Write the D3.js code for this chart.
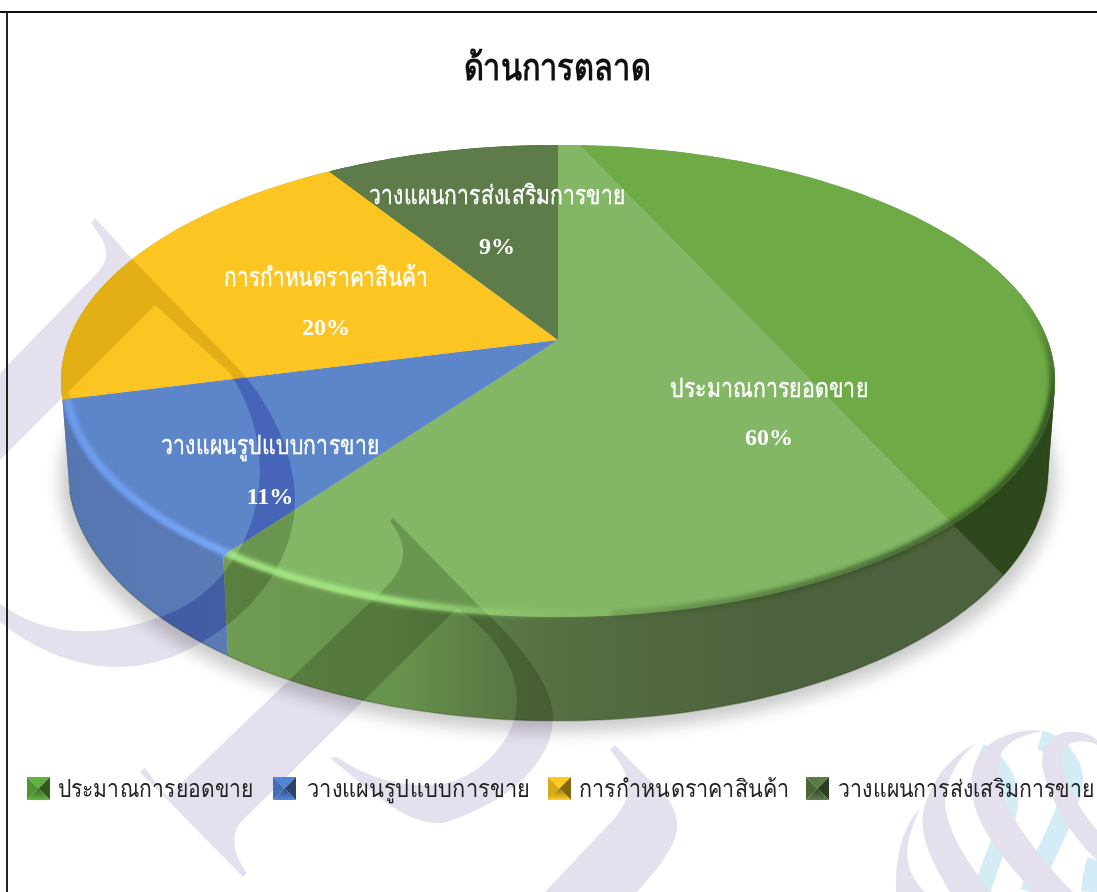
<!DOCTYPE html>
<html>
<head>
  <meta charset="utf-8">
  <title>ด้านการตลาด</title>
  <style>
    body { margin: 0; background: #fff; }
    svg { display: block; }
    text { font-family: "Liberation Serif", "Times New Roman", serif; }
    .title { font-size: 37px; font-weight: bold; fill: #111; text-anchor: middle; }
    .name { font-size: 26px; fill: #fff; stroke: #fff; stroke-width: 0.4px; text-anchor: middle; }
    .pct { font-size: 24px; font-weight: bold; fill: #fff; text-anchor: middle; }
    .legend-text { font-size: 24px; fill: #222; }
  </style>
  <script src="https://cdn.jsdelivr.net/npm/d3@7"></script>
</head>
<body>
<script>
// chart values
var titleText = "ด้านการตลาด";
var categories = ["ประมาณการยอดขาย", "วางแผนรูปแบบการขาย", "การกำหนดราคาสินค้า", "วางแผนการส่งเสริมการขาย"];
var values = [60, 11, 20, 9];

// slice colours
var faceColors = ["#83B765", "#5D85CA", "#FDC522", "#5E7B4A"];
var keyColors = ["#5FB23C", "#4F83D8", "#FFCB1E", "#5A7A46"];
// what the watermark does to each slice
var markTint = ["#CFD1C7", "#C0C2E8", "#E5E1A0", "#CFD1C7"];

// text layout, same order as categories
var labelBox = [
  {cx: 769, y1: 397, y2: 445, w: 198},
  {cx: 270, y1: 454, y2: 504, w: 218},
  {cx: 326, y1: 286, y2: 335, w: 204},
  {cx: 497, y1: 204, y2: 254, w: 256}
];
var legendBox = [
  {key: 27, x: 58, w: 193},
  {key: 273, x: 307, w: 218},
  {key: 548, x: 579, w: 208},
  {key: 806, x: 838, w: 254}
];

var width = 1097, height = 892, cx = 558;

// perspective of the tilted disc, plane 0 is the top face, 1 the underside
var tilt = 0.1737;
var planes = [{y: 340, a: 489.5, b: 229}, {y: 428, a: 482.5, b: 242}];

function project(angle, plane, r) {
  r = r === undefined ? 1 : r;
  var u = Math.sin(angle) * r, v = Math.cos(angle) * r, w = 1 + tilt * v;
  return [cx + plane.a * u / w, plane.y - plane.b * v / w];
}

function arcPoints(a0, a1, plane, r) {
  var n = Math.max(2, Math.ceil((a1 - a0) / 0.02));
  return d3.range(n + 1).map(function(i) {
    return project(a0 + (a1 - a0) * i / n, plane, r);
  });
}

var line = d3.line();

var arcs = d3.pie().sort(null).value(function(d) { return d; })(values);

var svg = d3.select("body").append("svg")
    .attr("width", width)
    .attr("height", height);

var defs = svg.append("defs");

defs.append("filter").attr("id", "shadowBlur")
    .attr("filterUnits", "userSpaceOnUse")
    .attr("x", 0).attr("y", 0).attr("width", width).attr("height", height)
  .append("feGaussianBlur").attr("stdDeviation", 8);
defs.append("filter").attr("id", "rimBlur")
    .attr("filterUnits", "userSpaceOnUse")
    .attr("x", 0).attr("y", 0).attr("width", width).attr("height", height)
  .append("feGaussianBlur").attr("stdDeviation", 2.2);

function gradient(id, stops, vertical) {
  var g = defs.append("linearGradient").attr("id", id)
      .attr("gradientUnits", "userSpaceOnUse")
      .attr("x1", 0).attr("y1", 0)
      .attr("x2", vertical ? 0 : width).attr("y2", vertical ? height : 0);
  stops.forEach(function(s) {
    g.append("stop")
        .attr("offset", s[0] / (vertical ? height : width))
        .attr("stop-color", s[1])
        .attr("stop-opacity", s[2] === undefined ? 1 : s[2]);
  });
}
gradient("side0", [[228, "#6F9B52"], [400, "#67924C"], [480, "#5C7D46"], [560, "#566F42"], [780, "#4C613D"], [1010, "#4C613D"]]);
gradient("side1", [[66, "#5676B2"], [230, "#5A7BB6"]]);
gradient("rim0", [[228, "#A6E885"], [400, "#A2E680"], [520, "#98D878", 0.35], [620, "#88C068", 0]]);
gradient("rim1", [[60, "#6C9CF0"], [230, "#7AA8FA"]]);
gradient("rim2", [[60, "#DDAE0A"], [110, "#E8B814", 0]]);
gradient("rimDarkA", [[300, "#2C481C", 0], [400, "#2C481C", 0.9], [520, "#2C481C", 0.8]], true);
gradient("rimDarkB", [[520, "#2C481C", 0], [800, "#2C481C", 0.55], [990, "#2C481C", 0.8]]);

// watermark shapes, typed from the picture
var markPaths = [
  "M95,218L133,260L233,363C265,395 295,450 295,500C295,570 240,625 187,650C130,680 60,670 0,622L0,604C40,632 90,642 160,617C220,597 258,540 260,470C258,430 250,405 230,373L155,305L0,460L0,373L100,270C110,255 108,245 91,223Z",
  "M393,518L480,607C510,635 553,680 553,717C553,760 513,800 447,822C410,830 370,790 330,758L337,757C370,780 410,790 447,783C480,775 517,740 517,700C517,665 490,630 457,608L243,820C232,830 230,850 247,873L243,877L140,772L145,768L167,797L380,593C405,570 412,550 390,521Z",
  "M610,750L615,745L667,798C678,812 680,830 673,843C665,860 650,878 637,892L545,892L613,820C635,795 632,775 610,750Z",
  "M896,892C895,850 905,825 920,808C910,830 905,850 908,862C910,875 918,885 925,892Z",
  "M950,892C930,860 920,835 923,813C928,785 950,755 977,743C960,755 945,780 945,800C945,830 970,865 990,892Z",
  "M1033,892C1010,865 985,840 975,807C965,775 975,750 1000,738C1015,731 1030,729 1043,731C1020,735 1000,745 1000,760C995,785 1010,815 1025,835C1040,855 1055,875 1073,892Z",
  "M1097,860C1070,835 1050,800 1043,770C1038,745 1055,730 1075,732C1085,732 1092,736 1097,740L1097,745C1085,738 1065,740 1062,755C1062,780 1080,810 1097,830Z"
];
var ribbonBlue = [
  {d: "M980,752C998,760 1010,780 1010,800C1008,830 990,860 982,892", w: 17},
  {d: "M1040,740C1058,745 1073,762 1073,780C1070,815 1045,850 1030,892", w: 20},
  {d: "M1097,860C1094,870 1092,880 1091,892", w: 20}
];

function drawMark(g, fill, withBlue) {
  if (withBlue) {
    g.selectAll("path.blue").data(ribbonBlue).enter().append("path")
        .attr("class", "blue")
        .attr("d", function(d) { return d.d; })
        .attr("fill", "none")
        .attr("stroke", "#D3ECF5")
        .attr("stroke-width", function(d) { return d.w; });
  }
  g.selectAll("path.mark").data(markPaths).enter().append("path")
      .attr("class", "mark")
      .attr("d", function(d) { return d; })
      .attr("fill", fill);
}

// watermark under the chart
drawMark(svg.append("g").style("mix-blend-mode", "multiply"), "#E5E0EE", true);

// soft shadow under the disc
svg.append("path")
    .attr("d", line(arcPoints(0, 2 * Math.PI, {y: planes[1].y + 9, a: planes[1].a + 8, b: planes[1].b + 2})) + "Z")
    .attr("fill", "#000")
    .attr("opacity", 0.2)
    .attr("filter", "url(#shadowBlur)");

function facePath(d) {
  return line([[cx, planes[0].y]].concat(arcPoints(d.startAngle, d.endAngle, planes[0]))) + "Z";
}
function sidePath(d, i) {
  var a0 = d.startAngle, a1 = d.endAngle;
  if (i === 2 || i === 3) {
    var edge = arcPoints(a0, a1, planes[0]).concat(arcPoints(a0, a1, planes[1]).reverse());
    return line(edge) + "Z";
  }
  // hull, so the outline stays straight where top and underside meet at the widest point
  if (i === 0) a0 = Math.PI / 3;
  return line(d3.polygonHull(arcPoints(a0, a1, planes[0]).concat(arcPoints(a0, a1, planes[1])))) + "Z";
}

var sideFill = ["url(#side0)", "url(#side1)", "#C9A010", "#3F5530"];
var sideOrder = [3, 2, 1, 0];

// sides first, the faces cover the back of them
var sides = svg.append("g");
sideOrder.forEach(function(i) {
  sides.append("path").attr("d", sidePath(arcs[i], i)).attr("fill", sideFill[i]);
});

defs.append("clipPath").attr("id", "clipSide0").append("path").attr("d", sidePath(arcs[0], 0));
defs.append("clipPath").attr("id", "clipFace0").append("path").attr("d", facePath(arcs[0]));

// the green slice has a darker part right of the diagonal
var darkPart = "M575,140L1100,140L1100,672L1003,575Z";
sides.append("path").attr("d", darkPart).attr("fill", "#2C481C").attr("clip-path", "url(#clipSide0)");

// darker line along the bottom edge
sides.append("path")
    .attr("d", line(arcPoints(arcs[0].startAngle + Math.PI / 2, arcs[1].endAngle, planes[1])))
    .attr("fill", "none")
    .attr("stroke", "#2A3F1C")
    .attr("stroke-opacity", 0.3)
    .attr("stroke-width", 1.5);

var faces = svg.append("g");
faces.selectAll("path").data(arcs).enter().append("path")
    .attr("d", facePath)
    .attr("fill", function(d, i) { return faceColors[i]; });
faces.append("path").attr("d", darkPart).attr("fill", "#6EAA46").attr("clip-path", "url(#clipFace0)");

// watermark again over the disc, one clip per slice because it tints each colour differently
arcs.forEach(function(d, i) {
  var clip = defs.append("clipPath").attr("id", "sliceClip" + i);
  clip.append("path").attr("d", facePath(d));
  clip.append("path").attr("d", sidePath(d, i));
});
[3, 2, 1, 0].forEach(function(i) {
  var tinted = svg.append("g")
      .attr("clip-path", "url(#sliceClip" + i + ")")
      .style("mix-blend-mode", "multiply");
  drawMark(tinted, markTint[i], false);
});

// bevel along the front rim, kept inside the disc outline
var discClip = defs.append("clipPath").attr("id", "discClip");
arcs.forEach(function(d, i) {
  discClip.append("path").attr("d", facePath(d));
  discClip.append("path").attr("d", sidePath(d, i));
});
var rims = [
  {a0: 1.35, a1: 2.25, stroke: "url(#rimDarkA)", r: 0.996, w: 7},
  {a0: 2.25, a1: 3.05, stroke: "url(#rimDarkB)", r: 0.996, w: 7},
  {a0: arcs[0].startAngle + 2.7, a1: arcs[0].endAngle, stroke: "url(#rim0)", r: 0.99, w: 7},
  {a0: arcs[1].startAngle, a1: arcs[1].endAngle, stroke: "url(#rim1)", r: 0.99, w: 7},
  {a0: arcs[2].startAngle, a1: arcs[2].startAngle + 0.5, stroke: "url(#rim2)", r: 0.992, w: 6}
];
svg.append("g").attr("clip-path", "url(#discClip)")
  .selectAll("path").data(rims).enter().append("path")
    .attr("d", function(d) { return line(arcPoints(d.a0, d.a1, planes[0], d.r)); })
    .attr("fill", "none")
    .attr("stroke", function(d) { return d.stroke; })
    .attr("stroke-width", function(d) { return d.w; })
    .attr("filter", "url(#rimBlur)");

// frame
svg.append("line").attr("x1", 0).attr("x2", width).attr("y1", 12).attr("y2", 12)
    .attr("stroke", "#111").attr("stroke-width", 2);
svg.append("line").attr("x1", 7).attr("x2", 7).attr("y1", 12).attr("y2", height)
    .attr("stroke", "#222").attr("stroke-width", 2);

// title
svg.append("text").attr("class", "title")
    .attr("x", 557).attr("y", 80)
    .attr("textLength", 187).attr("lengthAdjust", "spacingAndGlyphs")
    .text(titleText);

// data labels
var labels = svg.append("g").selectAll("g").data(categories).enter().append("g");
labels.append("text").attr("class", "name")
    .attr("x", function(d, i) { return labelBox[i].cx; })
    .attr("y", function(d, i) { return labelBox[i].y1; })
    .attr("textLength", function(d, i) { return labelBox[i].w; })
    .attr("lengthAdjust", "spacingAndGlyphs")
    .text(function(d) { return d; });
labels.append("text").attr("class", "pct")
    .attr("x", function(d, i) { return labelBox[i].cx; })
    .attr("y", function(d, i) { return labelBox[i].y2; })
    .text(function(d, i) { return values[i] + "%"; });

// legend with pyramid keys
var legend = svg.append("g").selectAll("g").data(categories).enter().append("g");
legend.each(function(d, i) {
  var g = d3.select(this), x = legendBox[i].key, y = 777, s = 23, c = d3.color(keyColors[i]);
  var mx = x + s / 2, my = y + s / 2;
  var grad = defs.append("linearGradient").attr("id", "keyBottom" + i)
      .attr("x1", 0).attr("y1", 0).attr("x2", 0).attr("y2", 1);
  grad.append("stop").attr("offset", 0).attr("stop-color", c.darker(1.6).toString());
  grad.append("stop").attr("offset", 1).attr("stop-color", c.brighter(0.1).toString());
  var tris = [
    [[x, y], [x + s, y], [mx, my], c.toString()],
    [[x, y], [x, y + s], [mx, my], c.darker(0.5).toString()],
    [[x + s, y], [x + s, y + s], [mx, my], c.darker(1.9).toString()],
    [[x, y + s], [x + s, y + s], [mx, my], "url(#keyBottom" + i + ")"]
  ];
  tris.forEach(function(t) {
    g.append("path").attr("d", line(t.slice(0, 3)) + "Z").attr("fill", t[3]);
  });
  var label = g.append("text").attr("class", "legend-text").text(d);
  // squeeze to the measured width with a transform
  var sx = legendBox[i].w / label.node().getComputedTextLength();
  label.attr("transform", "translate(" + legendBox[i].x + ",797) scale(" + sx + ",1)");
});
</script>
</body>
</html>
